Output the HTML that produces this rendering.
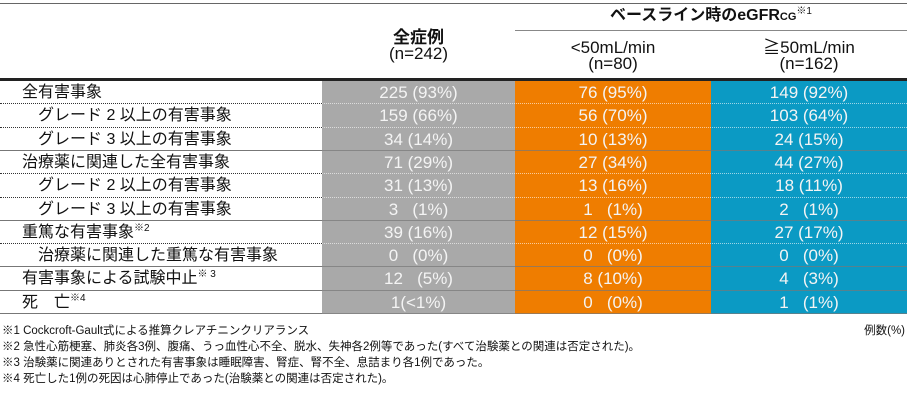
<!DOCTYPE html>
<html><head><meta charset="utf-8"><style>
body{margin:0;width:907px;height:402px;background:#fff;position:relative;overflow:hidden;font-family:"Liberation Sans","Noto Sans CJK JP",sans-serif;color:#111}
.a{position:absolute}
.hd{font-size:17px;text-align:center;line-height:16px}
.c{position:absolute;font-size:17px;text-align:center;color:#f4f4f4;line-height:23px;white-space:pre}
.l{position:absolute;font-size:16px;line-height:23px;white-space:nowrap}
.fn{position:absolute;font-size:11.5px;left:2px;white-space:nowrap}
sup{font-size:10px;vertical-align:6px;line-height:0}
</style></head><body>
<div class="a" style="left:0;top:3px;width:907px;height:1px;background:#666"></div>
<div class="a" style="left:515px;top:30px;width:392px;height:1px;background:#888"></div>
<div class="a" style="left:0;top:78px;width:907px;height:3px;background:#222"></div>
<div class="a hd" style="left:515px;top:8px;width:392px;font-weight:bold;font-size:16px">ベースライン時のeGFR<span style="font-size:11px">CG</span><sup style="font-weight:normal">※1</sup></div>
<div class="a hd" style="left:322px;top:30px;width:193px"><b>全症例</b><br>(n=242)</div>
<div class="a hd" style="left:515px;top:40px;width:196px">&lt;50mL/min<br>(n=80)</div>
<div class="a hd" style="left:711px;top:40px;width:196px">≧50mL/min<br>(n=162)</div>
<div class="a" style="left:322px;top:81px;width:193px;height:233px;background:#a9a9a9"></div>
<div class="a" style="left:515px;top:81px;width:196px;height:233px;background:#ef7d00"></div>
<div class="a" style="left:711px;top:81px;width:196px;height:233px;background:#0b9ac4"></div>
<div id="rows"></div>
<script>
var R=[["全有害事象",0,"225 (93%)","76 (95%)","149 (92%)","d"],
["グレード 2 以上の有害事象",1,"159 (66%)","56 (70%)","103 (64%)","d"],
["グレード 3 以上の有害事象",1,"34 (14%)","10 (13%)","24 (15%)","s"],
["治療薬に関連した全有害事象",0,"71 (29%)","27 (34%)","44 (27%)","d"],
["グレード 2 以上の有害事象",1,"31 (13%)","13 (16%)","18 (11%)","d"],
["グレード 3 以上の有害事象",1,"3   (1%)","1   (1%)","2   (1%)","s"],
["重篤な有害事象<sup>※2</sup>",0,"39 (16%)","12 (15%)","27 (17%)","d"],
["治療薬に関連した重篤な有害事象",1,"0   (0%)","0   (0%)","0   (0%)","s"],
["有害事象による試験中止<sup>※ 3</sup>",0,"12   (5%)","8 (10%)","4   (3%)","s"],
["死　亡<sup>※4</sup>",0,"1(<1%)","0   (0%)","1   (1%)","s"]];
var h="",y=81,H=23.3;
R.forEach(function(r,i){
var t=Math.round(y);
h+='<div class="l" style="left:'+(r[1]?38:22)+'px;top:'+t+'px">'+r[0]+'</div>';
h+='<div class="c" style="left:322px;width:193px;top:'+t+'px">'+r[2].replace("<","&lt;")+'</div>';
h+='<div class="c" style="left:515px;width:196px;top:'+t+'px">'+r[3]+'</div>';
h+='<div class="c" style="left:711px;width:196px;top:'+t+'px">'+r[4]+'</div>';
y+=H;var b=Math.round(y)-1;
if(r[5]=="d"){h+='<div class="a" style="left:0;top:'+b+'px;width:322px;border-top:1px dotted #333"></div><div class="a" style="left:322px;top:'+b+'px;width:585px;border-top:1px dotted rgba(255,255,255,.6)"></div>';}
else{h+='<div class="a" style="left:0;top:'+b+'px;width:322px;height:1px;background:#777"></div><div class="a" style="left:322px;top:'+b+'px;width:585px;height:1px;background:rgba(120,120,120,.7)"></div>';}
});
document.getElementById("rows").innerHTML=h;
</script>
<div class="fn" style="top:322px">※1 Cockcroft-Gault式による推算クレアチニンクリアランス</div>
<div class="fn" style="top:322px;left:auto;right:2px">例数(%)</div>
<div class="fn" style="top:338px">※2 急性心筋梗塞、肺炎各3例、腹痛、うっ血性心不全、脱水、失神各2例等であった(すべて治験薬との関連は否定された)。</div>
<div class="fn" style="top:354px">※3 治験薬に関連ありとされた有害事象は睡眠障害、腎症、腎不全、息詰まり各1例であった。</div>
<div class="fn" style="top:370px">※4 死亡した1例の死因は心肺停止であった(治験薬との関連は否定された)。</div>
</body></html>
